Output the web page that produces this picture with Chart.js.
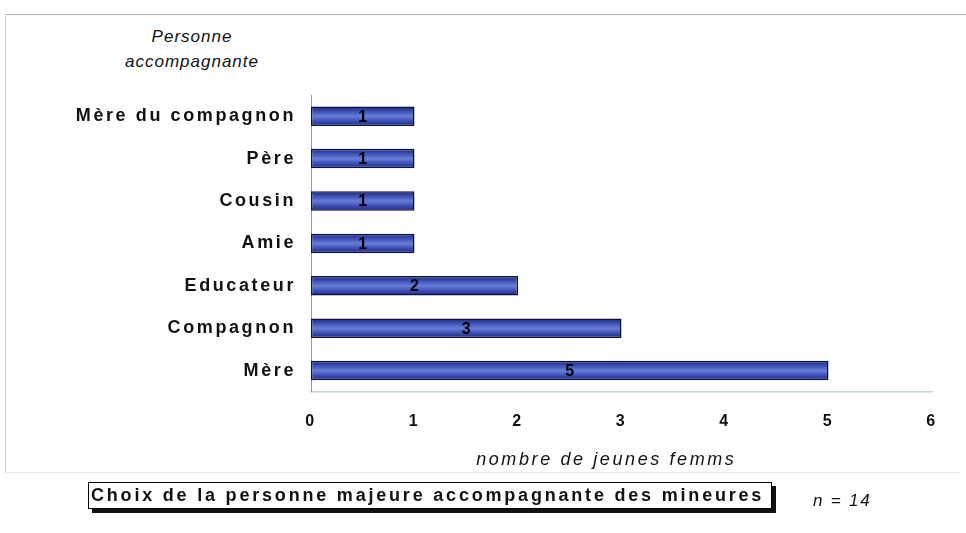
<!DOCTYPE html>
<html>
<head>
<meta charset="utf-8">
<script src="https://cdn.jsdelivr.net/npm/chart.js@4/dist/chart.umd.min.js"></script>
<style>
  body { margin: 0; background: #fff; font-family: "Liberation Sans", Arial, sans-serif; }
  #wrap { position: absolute; left: 0; top: 0; width: 966px; height: 533px; }
  .frame-top { position: absolute; left: 5px; top: 14px; width: 961px; height: 0; border-top: 1px solid #a8aeb0; }
  .frame-left { position: absolute; left: 5px; top: 14px; width: 0; height: 458px; border-left: 1px solid #d4d4d4; }
  .frame-bottom { position: absolute; left: 5px; top: 472px; width: 955px; height: 0; border-top: 1px solid #e4ece6; }
  .ytitle { position: absolute; left: 92px; width: 200px; text-align: center; font-style: italic; font-size: 17px; letter-spacing: 1px; color: #111; }
  .box { position: absolute; left: 88px; top: 482px; width: 680px; height: 25px; border: 1px solid #000; background: #fff;
         box-shadow: 4px 4px 0 #111; font-weight: bold; font-size: 18px; letter-spacing: 2.8px; line-height: 25px; padding-left: 2px; color: #111;
         white-space: nowrap; overflow: hidden; }
  .n { position: absolute; left: 813px; top: 491px; font-style: italic; font-size: 17px; letter-spacing: 1.8px; color: #111; }
</style>
</head>
<body>
<div class="frame-top"></div>
<div class="frame-left"></div>
<div class="frame-bottom"></div>
<div class="ytitle" style="top:27px">Personne</div>
<div class="ytitle" style="top:52px">accompagnante</div>
<div id="wrap"><canvas id="chart"></canvas></div>
<div class="box">Choix de la personne majeure accompagnante des mineures</div>
<div class="n">n = 14</div>
<script>
const categories = ["Mère du compagnon", "Père", "Cousin", "Amie", "Educateur", "Compagnon", "Mère"];
const values = [1, 1, 1, 1, 2, 3, 5];
const xTicks = [0, 1, 2, 3, 4, 5, 6];
const xTitle = "nombre de jeunes femms    "; // trailing spaces nudge it left like the scan

const ctx = document.getElementById("chart").getContext("2d");

// vertical gradient per bar, so every bar gets its own shading
const barFill = (c) => {
  const chart = c.chart;
  const y = chart.scales && chart.scales.y;
  if (!chart.chartArea || !y || c.dataIndex === undefined) return "#3b50b8";
  const yc = y.getPixelForValue(c.dataIndex);
  const g = chart.ctx.createLinearGradient(0, yc - 10, 0, yc + 10);
  g.addColorStop(0, "#18247a");
  g.addColorStop(0.3, "#4257bd");
  g.addColorStop(0.5, "#6a7ed6");
  g.addColorStop(0.7, "#4257bd");
  g.addColorStop(1, "#18247a");
  return g;
};

const spacingPlugin = {
  id: "spacing",
  beforeDraw(chart) { chart.ctx.letterSpacing = "2.6px"; },
  beforeDatasetsDraw(chart) { chart.ctx.letterSpacing = "0px"; }
};

const valueLabels = {
  id: "valueLabels",
  afterDatasetsDraw(chart) {
    const c = chart.ctx;
    const meta = chart.getDatasetMeta(0);
    c.save();
    c.letterSpacing = "0px";
    c.font = "bold 16px 'Liberation Sans', Arial, sans-serif";
    c.fillStyle = "#000";
    c.textAlign = "center";
    c.textBaseline = "middle";
    meta.data.forEach((bar, i) => {
      const p = bar.getProps(["x", "y", "base"], true);
      c.fillText(String(values[i]), (p.x + p.base) / 2, p.y + 1);
    });
    c.restore();
  }
};

new Chart(ctx, {
  type: "bar",
  data: {
    labels: categories,
    datasets: [{
      data: values,
      backgroundColor: barFill,
      borderColor: "#0e1040",
      borderWidth: 1.5,
      borderSkipped: false,
      categoryPercentage: 1,
      barPercentage: 0.46
    }]
  },
  options: {
    indexAxis: "y",
    responsive: true,
    maintainAspectRatio: false,
    animation: false,
    layout: { padding: { left: 0, top: 95, right: 34, bottom: 64 } },
    plugins: { legend: { display: false }, tooltip: { enabled: false } },
    scales: {
      x: {
        min: 0,
        max: 6,
        afterBuildTicks: (s) => { s.ticks = xTicks.map((v) => ({ value: v })); },
        grid: { display: false, drawTicks: false },
        border: { display: true, color: "#c4d4c8", width: 1.5 },
        ticks: { padding: 20, color: "#111", font: { family: "'Liberation Sans', Arial, sans-serif", size: 16, weight: "bold" } },
        title: {
          display: true,
          text: xTitle,
          color: "#111",
          padding: { top: 0, bottom: 0 },
          font: { family: "'Liberation Sans', Arial, sans-serif", size: 18, style: "italic", lineHeight: 1 }
        }
      },
      y: {
        afterFit: (s) => { s.width = 311; },
        grid: { display: false, drawTicks: false },
        border: { display: true, color: "#9a9a9a", width: 1 },
        ticks: { padding: 15, color: "#111", font: { family: "'Liberation Sans', Arial, sans-serif", size: 18, weight: "bold" } }
      }
    }
  },
  plugins: [spacingPlugin, valueLabels]
});
</script>
</body>
</html>
